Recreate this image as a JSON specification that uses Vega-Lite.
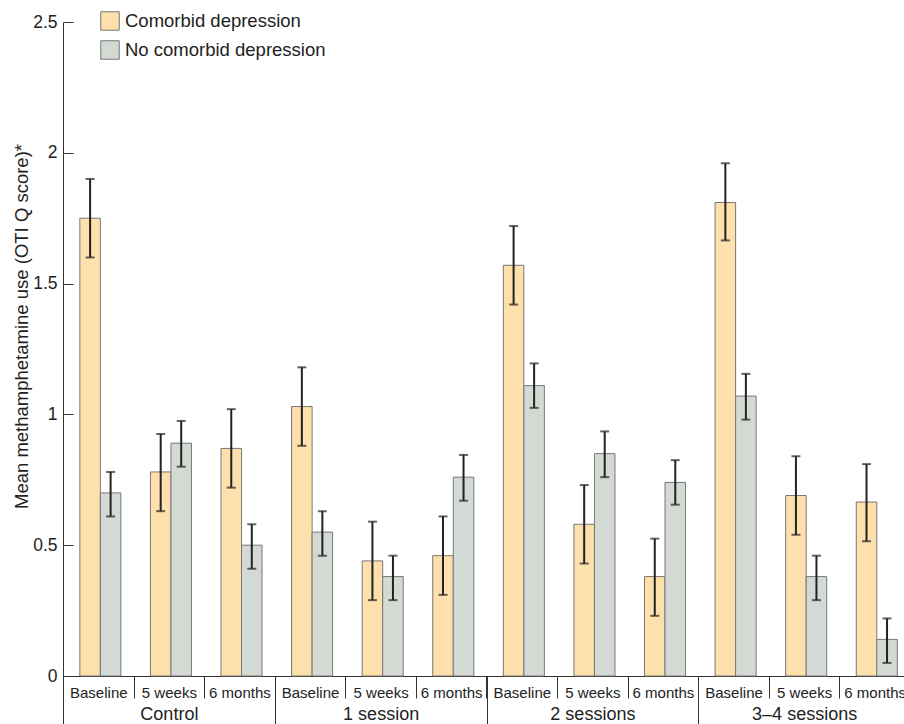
{
  "$schema": "https://vega.github.io/schema/vega-lite/v6.json",
  "autosize": {"type": "none"},
  "padding": {"left": 63, "top": 22, "right": 0, "bottom": 48},
  "width": 841,
  "height": 654,
  "config": {
    "view": {"stroke": null},
    "font": "Liberation Sans",
    "axis": {"labelFont": "Liberation Sans", "titleFont": "Liberation Sans", "labelColor": "#222", "titleColor": "#222", "domainColor": "#333", "tickColor": "#333", "grid": false}
  },
  "data": {"values": [
    {"slot": "Control|Baseline", "group": "Control", "status": "Comorbid depression", "mean": 1.75, "lo": 1.60, "hi": 1.90},
    {"slot": "Control|Baseline", "group": "Control", "status": "No comorbid depression", "mean": 0.70, "lo": 0.61, "hi": 0.78},
    {"slot": "Control|5 weeks", "group": "Control", "status": "Comorbid depression", "mean": 0.78, "lo": 0.63, "hi": 0.925},
    {"slot": "Control|5 weeks", "group": "Control", "status": "No comorbid depression", "mean": 0.89, "lo": 0.80, "hi": 0.975},
    {"slot": "Control|6 months", "group": "Control", "status": "Comorbid depression", "mean": 0.87, "lo": 0.72, "hi": 1.02},
    {"slot": "Control|6 months", "group": "Control", "status": "No comorbid depression", "mean": 0.50, "lo": 0.41, "hi": 0.58},
    {"slot": "1 session|Baseline", "group": "1 session", "status": "Comorbid depression", "mean": 1.03, "lo": 0.88, "hi": 1.18},
    {"slot": "1 session|Baseline", "group": "1 session", "status": "No comorbid depression", "mean": 0.55, "lo": 0.46, "hi": 0.63},
    {"slot": "1 session|5 weeks", "group": "1 session", "status": "Comorbid depression", "mean": 0.44, "lo": 0.29, "hi": 0.59},
    {"slot": "1 session|5 weeks", "group": "1 session", "status": "No comorbid depression", "mean": 0.38, "lo": 0.29, "hi": 0.46},
    {"slot": "1 session|6 months", "group": "1 session", "status": "Comorbid depression", "mean": 0.46, "lo": 0.31, "hi": 0.61},
    {"slot": "1 session|6 months", "group": "1 session", "status": "No comorbid depression", "mean": 0.76, "lo": 0.67, "hi": 0.845},
    {"slot": "2 sessions|Baseline", "group": "2 sessions", "status": "Comorbid depression", "mean": 1.57, "lo": 1.42, "hi": 1.72},
    {"slot": "2 sessions|Baseline", "group": "2 sessions", "status": "No comorbid depression", "mean": 1.11, "lo": 1.025, "hi": 1.195},
    {"slot": "2 sessions|5 weeks", "group": "2 sessions", "status": "Comorbid depression", "mean": 0.58, "lo": 0.43, "hi": 0.73},
    {"slot": "2 sessions|5 weeks", "group": "2 sessions", "status": "No comorbid depression", "mean": 0.85, "lo": 0.76, "hi": 0.935},
    {"slot": "2 sessions|6 months", "group": "2 sessions", "status": "Comorbid depression", "mean": 0.38, "lo": 0.23, "hi": 0.525},
    {"slot": "2 sessions|6 months", "group": "2 sessions", "status": "No comorbid depression", "mean": 0.74, "lo": 0.655, "hi": 0.825},
    {"slot": "3–4 sessions|Baseline", "group": "3–4 sessions", "status": "Comorbid depression", "mean": 1.81, "lo": 1.665, "hi": 1.96},
    {"slot": "3–4 sessions|Baseline", "group": "3–4 sessions", "status": "No comorbid depression", "mean": 1.07, "lo": 0.98, "hi": 1.155},
    {"slot": "3–4 sessions|5 weeks", "group": "3–4 sessions", "status": "Comorbid depression", "mean": 0.69, "lo": 0.54, "hi": 0.84},
    {"slot": "3–4 sessions|5 weeks", "group": "3–4 sessions", "status": "No comorbid depression", "mean": 0.38, "lo": 0.29, "hi": 0.46},
    {"slot": "3–4 sessions|6 months", "group": "3–4 sessions", "status": "Comorbid depression", "mean": 0.665, "lo": 0.515, "hi": 0.81},
    {"slot": "3–4 sessions|6 months", "group": "3–4 sessions", "status": "No comorbid depression", "mean": 0.14, "lo": 0.05, "hi": 0.22}
  ]},
  "resolve": {"scale": {"x": "independent", "xOffset": "independent"}, "axis": {"x": "independent"}},
  "layer": [
    {
      "encoding": {
        "x": {
          "field": "slot", "type": "nominal",
          "scale": {"domain": ["Control|Baseline", "Control|5 weeks", "Control|6 months", "1 session|Baseline", "1 session|5 weeks", "1 session|6 months", "2 sessions|Baseline", "2 sessions|5 weeks", "2 sessions|6 months", "3–4 sessions|Baseline", "3–4 sessions|5 weeks", "3–4 sessions|6 months"], "range": [0, 847], "paddingInner": 0, "paddingOuter": 0},
          "axis": {"orient": "bottom", "title": null, "labelExpr": "split(datum.value, '|')[1]", "labelAngle": 0, "labelFontSize": 15, "tickBand": "extent", "tickSize": 22, "labelPadding": -13, "labelOverlap": false}
        },
        "xOffset": {"field": "status", "type": "nominal", "scale": {"domain": ["Comorbid depression", "No comorbid depression"], "paddingInner": 0, "paddingOuter": 0.72, "align": 0.57}},
        "y": {"field": "mean", "type": "quantitative",
          "scale": {"domain": [0, 2.5], "nice": false, "zero": true},
          "axis": {"title": "Mean methamphetamine use (OTI Q score)*", "values": [0, 0.5, 1, 1.5, 2, 2.5], "format": "~g", "tickSize": -10, "labelPadding": 16, "labelFontSize": 17.5, "titleFontSize": 18.5, "titleFontWeight": "normal", "titleX": -42, "titleY": 304, "titleAngle": 270, "titleBaseline": "middle", "titleAlign": "center"}
        }
      },
      "layer": [
        {
          "mark": {"type": "bar", "stroke": "#777", "strokeWidth": 1},
          "encoding": {
            "fill": {"field": "status", "type": "nominal",
              "scale": {"domain": ["Comorbid depression", "No comorbid depression"], "range": ["#FEE0AC", "#D3DAD4"]},
              "legend": {"orient": "none", "legendX": 37, "legendY": -11, "title": null, "symbolType": "square", "symbolSize": 342, "symbolStrokeColor": "#777", "symbolStrokeWidth": 1, "labelFontSize": 18.5, "labelColor": "#222", "labelFont": "Liberation Sans", "labelLimit": 0, "rowPadding": 5, "labelOffset": 5}
            }
          }
        },
        {
          "mark": {"type": "rule", "color": "#222", "strokeWidth": 2},
          "encoding": {"y": {"field": "lo", "type": "quantitative"}, "y2": {"field": "hi"}}
        },
        {
          "mark": {"type": "tick", "color": "#222", "thickness": 2, "size": 9},
          "encoding": {"y": {"field": "hi", "type": "quantitative"}}
        },
        {
          "mark": {"type": "tick", "color": "#222", "thickness": 2, "size": 9},
          "encoding": {"y": {"field": "lo", "type": "quantitative"}}
        }
      ]
    },
    {
      "mark": {"type": "text", "text": ""},
      "encoding": {
        "x": {"field": "group", "type": "nominal",
          "scale": {"domain": ["Control", "1 session", "2 sessions", "3–4 sessions"], "range": [0, 847], "paddingInner": 0, "paddingOuter": 0},
          "axis": {"orient": "bottom", "title": null, "labelAngle": 0, "labelFontSize": 18, "tickBand": "extent", "tickSize": 48, "labelPadding": -19, "domain": false, "labelOverlap": false}
        }
      }
    }
  ]
}
